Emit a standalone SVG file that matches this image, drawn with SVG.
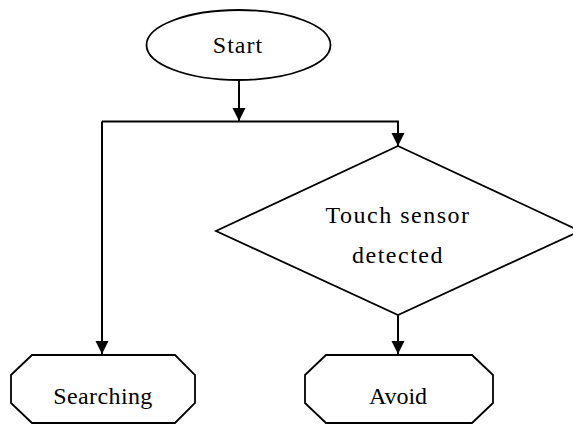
<svg xmlns="http://www.w3.org/2000/svg" width="573" height="424" viewBox="0 0 573 424">
<defs>
<marker id="arr" markerUnits="userSpaceOnUse" markerWidth="13" markerHeight="14" viewBox="0 0 13 14" refX="13" refY="6.5" orient="auto">
<path d="M0,0 L13,6.5 L0,13 Z" fill="#000"/>
</marker>
<style>
.shape{fill:#fff;stroke:#000;stroke-width:1.8}
.conn{fill:none;stroke:#000;stroke-width:2}
.lbl{font-family:"Liberation Serif","Times New Roman",serif;font-size:24px;fill:#000;text-anchor:middle}
</style>
</defs>
<rect width="573" height="424" fill="#fff"/>
<g id="connectors">
<path class="conn" d="M239,80 V121" marker-end="url(#arr)"/>
<path class="conn" d="M102,121.5 H398 V146" marker-end="url(#arr)"/>
<path class="conn" d="M102,121.5 V354" marker-end="url(#arr)"/>
<path class="conn" d="M398,315 V354" marker-end="url(#arr)"/>
</g>
<g id="start">
<ellipse class="shape" cx="238.5" cy="45" rx="92" ry="35"/>
<text class="lbl" x="238" y="53" letter-spacing="1">Start</text>
</g>
<g id="decision">
<polygon class="shape" points="398,146 580,231 398,315 216,231"/>
<text class="lbl" x="398" y="223" font-size="26" letter-spacing="1.5">Touch sensor</text>
<text class="lbl" x="398" y="263" font-size="26" letter-spacing="1.5">detected</text>
</g>
<g id="searching">
<polygon class="shape" points="32,355 175,355 195,375 195,403 175,423 32,423 11,403 11,375"/>
<text class="lbl" x="103" y="404" font-size="26" letter-spacing="0.4">Searching</text>
</g>
<g id="avoid">
<polygon class="shape" points="326,355 472,355 493,375 493,403 472,423 326,423 305,403 305,375"/>
<text class="lbl" x="398" y="404">Avoid</text>
</g>
</svg>
